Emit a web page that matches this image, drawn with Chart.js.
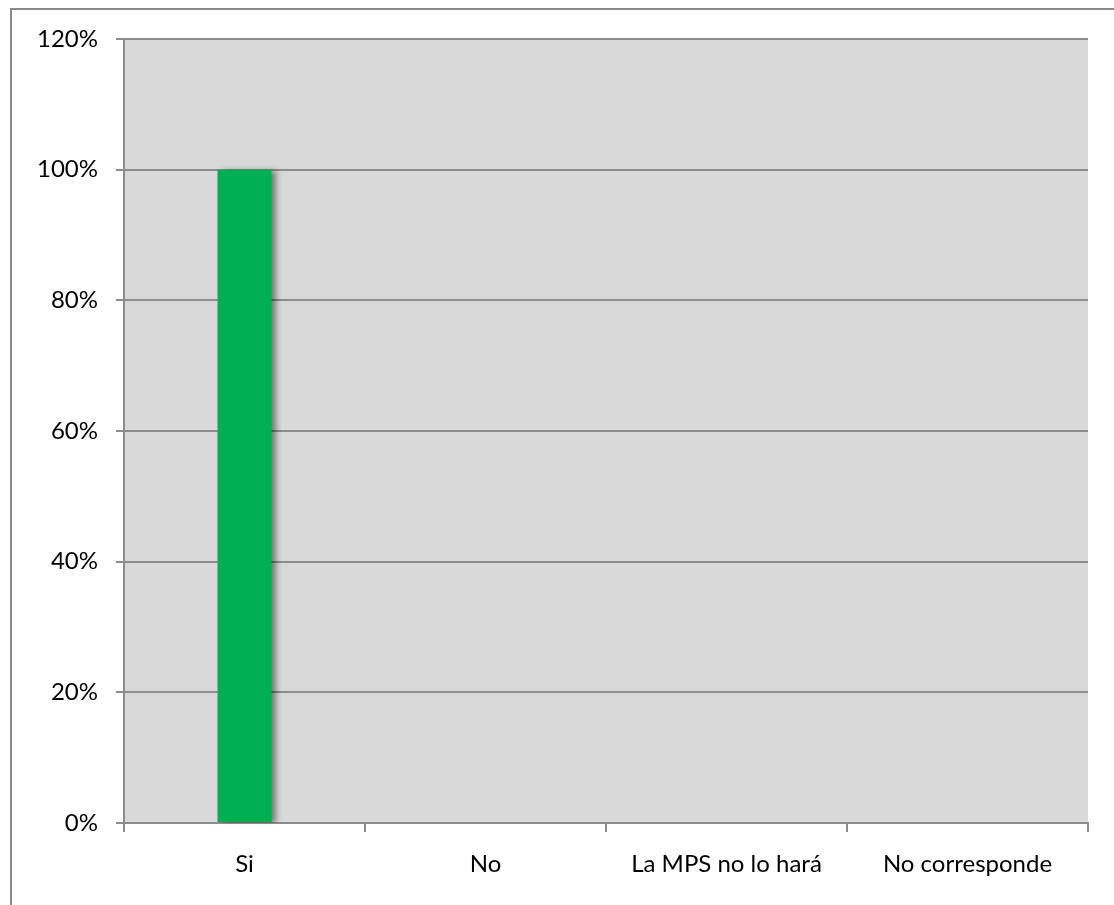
<!DOCTYPE html>
<html>
<head>
<meta charset="utf-8">
<script src="https://cdn.jsdelivr.net/npm/chart.js@4"></script>
<style>
  html, body { margin: 0; padding: 0; background: #fff; }
  #wrap { width: 1114px; height: 905px; position: relative; }
</style>
</head>
<body>
<div id="wrap"><canvas id="c" width="1114" height="905"></canvas></div>
<script>
const categories = ["Si", "No", "La MPS no lo hará", "No corresponde"];
const values = [100, 0, 0, 0];
const yMin = 0, yMax = 120, yStep = 20;
const barColor = "#00B050";

const FONT = { family: "Lato, 'Open Sans', sans-serif", size: 24 };

const plotBg = {
  id: 'plotBg',
  beforeDraw(chart) {
    const { ctx, chartArea: a } = chart;
    ctx.save();
    ctx.fillStyle = '#D9D9D9';
    ctx.fillRect(a.left, a.top, a.right - a.left, a.bottom - a.top);
    ctx.restore();
  },
  afterDraw(chart) {
    const ctx = chart.ctx;
    ctx.save();
    ctx.strokeStyle = '#8a8a8a';
    ctx.lineWidth = 2;
    ctx.strokeRect(11, 9, 1200, 1000);
    ctx.restore();
  }
};

const barShadow = {
  id: 'barShadow',
  beforeDatasetsDraw(chart) {
    const ctx = chart.ctx;
    ctx.save();
    ctx.shadowColor = 'rgba(0,0,0,0.45)';
    ctx.shadowOffsetX = 5;
    ctx.shadowOffsetY = 1;
    ctx.shadowBlur = 6;
  },
  afterDatasetsDraw(chart) {
    chart.ctx.restore();
  }
};

new Chart(document.getElementById('c'), {
  type: 'bar',
  data: {
    labels: categories,
    datasets: [{
      data: values,
      backgroundColor: barColor,
      borderWidth: 0,
      barPercentage: 0.224,
      categoryPercentage: 1.0
    }]
  },
  options: {
    responsive: false,
    animation: false,
    devicePixelRatio: 1,
    layout: { padding: { left: 0, top: 39, right: 26, bottom: 0 } },
    plugins: { legend: { display: false }, tooltip: { enabled: false } },
    scales: {
      x: {
        offset: true,
        grid: {
          offset: true,
          drawOnChartArea: false,
          drawTicks: true,
          tickLength: 9,
          color: '#8c8c8c',
          lineWidth: 2
        },
        border: { display: true, color: '#8c8c8c', width: 2 },
        ticks: { color: '#000', font: FONT, padding: 18, maxRotation: 0 },
        afterFit(scale) { scale.height = 82; }
      },
      y: {
        min: yMin,
        max: yMax,
        grid: {
          color: '#8c8c8c',
          lineWidth: 2,
          drawTicks: true,
          tickLength: 8
        },
        border: { display: true, color: '#8c8c8c', width: 2 },
        ticks: {
          stepSize: yStep,
          color: '#000',
          font: FONT,
          padding: 18,
          callback: v => v + '%'
        },
        afterFit(scale) { scale.width = 124; }
      }
    }
  },
  plugins: [plotBg, barShadow]
});
</script>
</body>
</html>
